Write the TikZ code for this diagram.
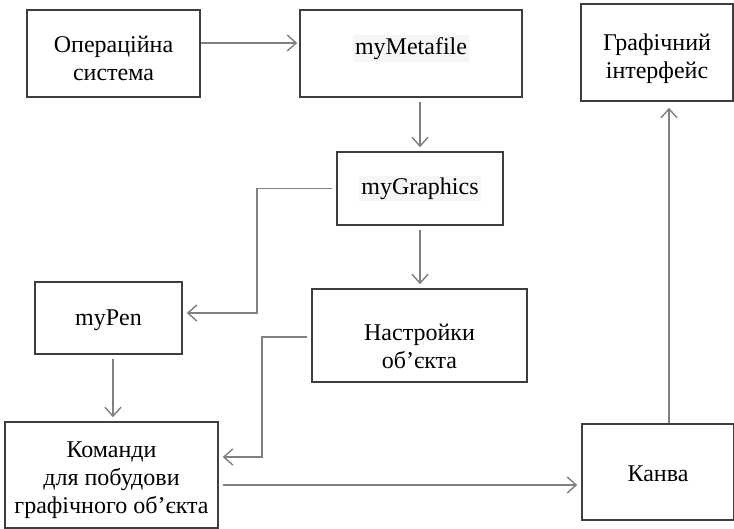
\documentclass[tikz,border=0pt]{standalone}
\usepackage{fontspec}
\setmainfont{Liberation Serif}
\usetikzlibrary{arrows.meta}
\definecolor{boxline}{HTML}{3E3E3E}
\definecolor{wireline}{HTML}{808080}
\definecolor{texthl}{HTML}{F6F6F6}
% light highlight behind class names
\newcommand{\hl}[1]{{\setlength{\fboxsep}{2pt}\colorbox{texthl}{#1}}}
% shift text vertically without changing the size the node sees
\newcommand{\shiftv}[2]{\raisebox{#1}[\height][\depth]{#2}}
% centred block of lines
\newcommand{\blocklines}[1]{\begin{tabular}{@{}c@{}}#1\end{tabular}}
\begin{document}
\begin{tikzpicture}[x=1pt,y=-1pt,
  blockbox/.style={draw=boxline, line width=1.5pt, rectangle, inner sep=0pt,
    align=center, font=\fontsize{24}{28}\selectfont},
  conn/.style={draw=wireline, line width=1.4pt,
    -{Straight Barb[length=9pt,width=16pt,line width=1.4pt]},
    shorten <=4pt, shorten >=4pt}]
  \useasboundingbox (0,0) rectangle (734,529);

  % blocks (centres and sizes in pt)
  \node[blockbox, minimum width=173pt, minimum height=87pt] (os) at (113.5,53.5)
    {\shiftv{-7pt}{\blocklines{Операційна\\система}}};
  \node[blockbox, minimum width=222pt, minimum height=87pt] (meta) at (411,53.5)
    {\shiftv{5pt}{\hl{myMetafile}}};
  \node[blockbox, minimum width=152pt, minimum height=97pt] (gui) at (657,52.5)
    {\shiftv{-6pt}{\blocklines{Графічний\\інтерфейс}}};
  \node[blockbox, minimum width=166pt, minimum height=73pt] (gfx) at (420,188.5)
    {\hl{myGraphics}};
  \node[blockbox, minimum width=147pt, minimum height=72pt] (pen) at (108.5,318)
    {\shiftv{-2pt}{myPen}};
  \node[blockbox, minimum width=215pt, minimum height=93pt] (set) at (419.5,335.5)
    {\shiftv{-13pt}{\blocklines{Настройки\\об’єкта}}};
  \node[blockbox, minimum width=213pt, minimum height=106pt] (cmd) at (111.5,475)
    {\shiftv{-5pt}{\blocklines{Команди\\для побудови\\графічного об’єкта}}};
  \node[blockbox, minimum width=152pt, minimum height=96pt] (canva) at (658,472)
    {\shiftv{-2pt}{Канва}};

  % bend columns of the elbow connectors
  \coordinate (k1) at (257,0);
  \coordinate (k2) at (262,0);

  % connectors
  \draw[conn, shorten <=0pt, shorten >=2pt]
    ([yshift=10.5pt]os.east) -- ([yshift=10.5pt]meta.west);
  \draw[conn] (meta.south -| gfx.north) -- (gfx.north);
  \draw[conn] (gfx.west) -- (gfx.west -| k1) |- ([yshift=5pt]pen.east);
  \draw[conn] (gfx.south) -- (set.north -| gfx.south);
  \draw[conn] ([yshift=-1.5pt]set.west) -- ([yshift=-1.5pt]set.west -| k2)
    |- ([yshift=18pt]cmd.east);
  \draw[conn] ([xshift=4.5pt]pen.south) -- ([xshift=4.5pt]pen.south |- cmd.north);
  \draw[conn] ([yshift=-10pt]cmd.east) -- ([yshift=-10pt]cmd.east -| canva.west);
  \draw[conn, shorten <=0pt, shorten >=6pt]
    ([xshift=11pt]canva.north) -- ([xshift=11pt]canva.north |- gui.south);
\end{tikzpicture}
\end{document}
